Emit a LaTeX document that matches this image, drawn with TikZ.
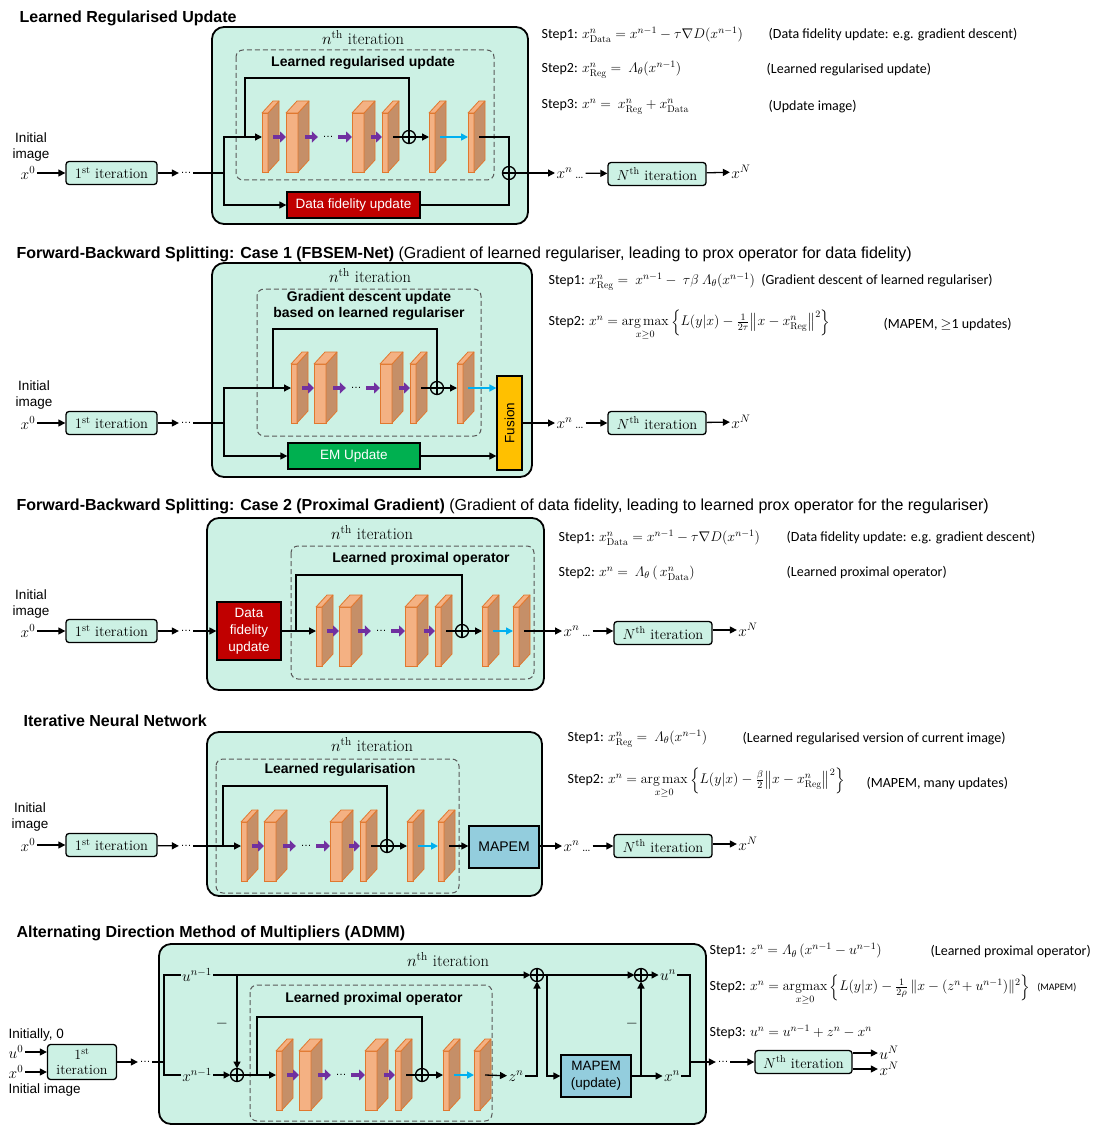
\documentclass[tikz,border=0pt]{standalone}
\usepackage{fix-cm}
\usepackage{amsmath}
\usepackage{graphicx}
\usepackage{fontspec}
\newfontfamily\arial{Liberation Sans}
\newfontfamily\calib{Carlito}
\usetikzlibrary{arrows.meta, calc}
\definecolor{cmint}{HTML}{CCF1E4}
\definecolor{cfront}{HTML}{F4B183}
\definecolor{cside}{HTML}{C58F68}
\definecolor{cedge}{HTML}{E0782F}
\definecolor{cpurple}{HTML}{7030A0}
\definecolor{ccyan}{HTML}{00B0F0}
\definecolor{cred}{HTML}{C00000}
\definecolor{cgreen}{HTML}{00B050}
\definecolor{cyellow}{HTML}{FFC000}
\definecolor{cteal}{HTML}{93CDDD}
\definecolor{cdash}{HTML}{595959}
\newcommand\Lam{\mathnormal{\Lambda}}
\tikzset{
  every picture/.style={line width=1.3pt},
  title/.style={font=\arial\bfseries\fontsize{16}{19}\selectfont, anchor=west, inner sep=0pt},
  outer/.style={draw, fill=cmint, rounded corners=12pt, line width=1.8pt},
  inner/.style={draw=cdash, dash pattern=on 5pt off 3pt, rounded corners=7pt, line width=1pt},
  iter/.style={draw, fill=cmint, rounded corners=3pt, line width=1.3pt, minimum width=91pt, minimum height=23pt, inner sep=0pt, font=\fontsize{14.5}{16}\selectfont},
  iterlabel/.style={font=\fontsize{16.5}{18}\selectfont, inner sep=0pt},
  boxlabel/.style={font=\arial\bfseries\fontsize{14}{16}\selectfont, inner sep=0pt, align=center},
  lbl/.style={font=\arial\fontsize{13.5}{16}\selectfont, align=center, inner sep=0pt},
  mathlbl/.style={font=\fontsize{15.5}{17}\selectfont, inner sep=1pt},
  dotsnode/.style={font=\arial\fontsize{11}{13}\selectfont, inner sep=1pt},
  opbox/.style={draw, line width=1.3pt, font=\arial\fontsize{13.5}{17}\selectfont, inner sep=0pt, align=center},
  steptext/.style={font=\calib\fontsize{14}{17}\selectfont, anchor=west, inner sep=0pt},
  slab/.style={draw=cedge, fill=cfront, line width=0.8pt, inner sep=0pt, outer sep=0pt, text height=24pt, text depth=35pt, anchor=base west},
  slabside/.style={draw=cedge, fill=cside, line width=0.8pt, line join=round},
  slabtop/.style={draw=cedge, fill=cfront, line width=0.8pt, line join=round},
  sum/.style={circle, draw, fill=cmint, minimum size=13pt, inner sep=0pt, outer sep=0pt, line width=1.3pt,
    path picture={\draw[line width=1.3pt] (path picture bounding box.north) -- (path picture bounding box.south)
      (path picture bounding box.west) -- (path picture bounding box.east);}},
  arrow/.style={-{Triangle[length=7pt,width=7pt]}, line width=1.3pt},
  purparrow/.style={draw=cpurple, line width=4pt, -{Triangle[length=6pt,width=11pt]}},
  cyanarrow/.style={draw=ccyan, line width=1.6pt, -{Triangle[length=7pt,width=7pt]}},
}
% one 3D layer of the network: name, x of front face, y of data line, front width
\newcommand\convslab[4]{%
  \node[slab, minimum width=#4] (#1) at (#2,#3) {};
  \filldraw[slabside] (#1.north east) -- ([shift={(11,-12)}]#1.north east)
    -- ([shift={(11,-12)}]#1.south east) -- (#1.south east) -- cycle;
  \filldraw[slabtop] (#1.north west) -- ([shift={(11,-12)}]#1.north west)
    -- ([shift={(11,-12)}]#1.north east) -- (#1.north east) -- cycle;
}

\begin{document}
\begin{tikzpicture}[x=1pt, y=-1pt]
  \useasboundingbox (0,0) rectangle (1097,1126);

  % ===== Learned Regularised Update =====
  \node[title] (t1) at (19,18) {Learned Regularised Update};
  \draw[outer] (212,27) rectangle (528,224);
  \draw[inner] (236,50) rectangle (494,180);
  \node[iterlabel] (n1) at (363,38) {$n^{\mathrm{th}}$ iteration};
  \node[boxlabel] (l1) at (363,63) {Learned regularised update};
  \foreach \n/\x/\w in {a1/262/6, a2/286/12, a3/352/12, a4/382/6, a5/429/6, a6/468/6}
    \convslab{\n}{\x}{137}{\w};
  \node[dotsnode] (ad) at (328,137) {\ldots};
  \draw[purparrow] ([xshift=5]a1.base east) -- (a2.base west);
  \draw[purparrow] ([xshift=7]a2.base east) -- ([xshift=-3]ad.west);
  \draw[purparrow] ([xshift=3]ad.east) -- (a3.base west);
  \draw[purparrow] ([xshift=7]a3.base east) -- (a4.base west);
  \node[sum] (s1) at (409,137) {};
  \draw ([xshift=5]a4.base east) -- (s1);
  \draw[arrow] (s1) -- (a5.base west);
  \draw[cyanarrow] ([xshift=5]a5.base east) -- (a6.base west);
  \node[sum] (s2) at (509,173) {};
  \node[opbox, fill=cred, text=white, minimum width=133, minimum height=26] (df1) at (353.5,205) {Data fidelity update};
  \node[lbl] (i1) at (31,147) {Initial\\image};
  \node[mathlbl] (x01) at (28,173) {$x^0$};
  \node[iter] (it1) at (111.5,173) {$1^{\mathrm{st}}$ iteration};
  \node[dotsnode] (d1) at (186,173) {\ldots};
  \coordinate (j1) at (224,173);
  \coordinate (k1) at (245,137);
  \coordinate (k1t) at (245,78);
  \draw[arrow] (x01) -- (it1);
  \draw[arrow] (it1) -- (d1);
  \draw (d1) -- (j1);
  \draw[arrow] (j1) |- (a1.base west);
  \draw[arrow] (j1) |- (df1);
  \draw (k1) -- (k1t) -| (s1);
  \draw ([xshift=5]a6.base east) -| (s2);
  \draw (df1) -| (s2);
  \node[mathlbl, anchor=west] (xn1) at (555,173) {$x^n$\,\ldots};
  \node[iter, minimum width=98] (N1) at (657,174) {$N^{\mathrm{th}}$ iteration};
  \node[mathlbl] (xN1) at (741,172) {$x^N$};
  \draw[arrow] (s2) -- (xn1);
  \draw[arrow] (xn1) -- (N1);
  \draw[arrow] (N1) -- (xN1);
  \node[steptext] (st11) at (541,35) {Step1: $x^n_{\mathrm{Data}} = x^{n-1} - \tau\nabla D(x^{n-1})$};
  \node[steptext] (nt11) at (768,35) {(Data fidelity update: e.g. gradient descent)};
  \node[steptext] (st12) at (541,70) {Step2: $x^n_{\mathrm{Reg}} = \ \Lam_\theta(x^{n-1})$};
  \node[steptext] (nt12) at (766,70) {(Learned regularised update)};
  \node[steptext] (st13) at (541,107) {Step3: $x^n = \ x^n_{\mathrm{Reg}} + x^n_{\mathrm{Data}}$};
  \node[steptext] (nt13) at (768,107) {(Update image)};

  % ===== Forward-Backward Splitting: Case 1 =====
  \node[title] (t2) at (16,254) {Forward-Backward Splitting: Case 1 (FBSEM-Net) {\mdseries(Gradient of learned regulariser, leading to prox operator for data fidelity)}};
  \draw[outer] (212,263) rectangle (532,477);
  \draw[inner] (257,289) rectangle (481,436);
  \node[iterlabel] (n2) at (370,276) {$n^{\mathrm{th}}$ iteration};
  \node[boxlabel] (l2) at (369,306) {Gradient descent update\\based on learned regulariser};
  \foreach \n/\x/\w in {b1/291/6, b2/314/12, b3/380/12, b4/410/6, b5/457/6}
    \convslab{\n}{\x}{388}{\w};
  \node[dotsnode] (bd) at (356,388) {\ldots};
  \draw[purparrow] ([xshift=5]b1.base east) -- (b2.base west);
  \draw[purparrow] ([xshift=7]b2.base east) -- ([xshift=-3]bd.west);
  \draw[purparrow] ([xshift=3]bd.east) -- (b3.base west);
  \draw[purparrow] ([xshift=7]b3.base east) -- (b4.base west);
  \node[sum] (s3) at (437,388) {};
  \draw ([xshift=5]b4.base east) -- (s3);
  \draw[arrow] (s3) -- (b5.base west);
  \node[opbox, fill=cyellow, minimum width=25, minimum height=94] (fu) at (509.5,423) {\rotatebox{90}{Fusion}};
  \draw[cyanarrow] ([xshift=5]b5.base east) -- (b5.base east -| fu.west);
  \node[opbox, fill=cgreen, text=white, minimum width=132, minimum height=26] (em) at (354,456) {EM Update};
  \node[lbl] (i2) at (34,395) {Initial\\image};
  \node[mathlbl] (x02) at (28,423) {$x^0$};
  \node[iter] (it2) at (111.5,423) {$1^{\mathrm{st}}$ iteration};
  \node[dotsnode] (d2) at (186,423) {\ldots};
  \coordinate (j2) at (224,423);
  \coordinate (k2) at (273,388);
  \coordinate (k2t) at (273,329);
  \draw[arrow] (x02) -- (it2);
  \draw[arrow] (it2) -- (d2);
  \draw (d2) -- (j2);
  \draw[arrow] (j2) |- (b1.base west);
  \draw[arrow] (j2) |- (em);
  \draw (k2) -- (k2t) -| (s3);
  \draw[arrow] (em) -- (em -| fu.west);
  \node[mathlbl, anchor=west] (xn2) at (555,423) {$x^n$\,\ldots};
  \node[iter, minimum width=98] (N2) at (657,423) {$N^{\mathrm{th}}$ iteration};
  \node[mathlbl] (xN2) at (741,422) {$x^N$};
  \draw[arrow] (fu) -- (xn2);
  \draw[arrow] (xn2) -- (N2);
  \draw[arrow] (N2) -- (xN2);
  \node[steptext] (st21) at (548,282) {Step1: $x^n_{\mathrm{Reg}} = \ x^{n-1} - \ \tau\beta\ \Lam_\theta(x^{n-1})$\ \ (Gradient descent of learned regulariser)};
  \node[steptext] (st22) at (548,325) {Step2: $x^n = \mathop{\mathrm{arg\,max}}\limits_{x\geq 0}\Big\{L(y|x) - \tfrac{1}{2\tau}\big\|x - x^n_{\mathrm{Reg}}\big\|^2\Big\}$};
  \node[steptext] (nt22) at (883,325) {(MAPEM, $\geq$1 updates)};

  % ===== Forward-Backward Splitting: Case 2 =====
  \node[title] (t3) at (16,506) {Forward-Backward Splitting: Case 2 (Proximal Gradient) {\mdseries(Gradient of data fidelity, leading to learned prox operator for the regulariser)}};
  \draw[outer] (207,518) rectangle (544,690);
  \draw[inner] (291,546) rectangle (534,679);
  \node[iterlabel] (n3) at (372,533) {$n^{\mathrm{th}}$ iteration};
  \node[boxlabel] (l3) at (421,559) {Learned proximal operator};
  \node[opbox, fill=cred, text=white, minimum width=64, minimum height=58] (df3) at (249,631) {Data\\fidelity\\update};
  \foreach \n/\x/\w in {c1/316/6, c2/339/12, c3/405/12, c4/435/6, c5/482/6, c6/513/6}
    \convslab{\n}{\x}{631}{\w};
  \node[dotsnode] (cd) at (381,631) {\ldots};
  \draw[purparrow] ([xshift=5]c1.base east) -- (c2.base west);
  \draw[purparrow] ([xshift=7]c2.base east) -- ([xshift=-3]cd.west);
  \draw[purparrow] ([xshift=3]cd.east) -- (c3.base west);
  \draw[purparrow] ([xshift=7]c3.base east) -- (c4.base west);
  \node[sum] (s5) at (462,631) {};
  \draw ([xshift=5]c4.base east) -- (s5);
  \draw[arrow] (s5) -- (c5.base west);
  \draw[cyanarrow] ([xshift=5]c5.base east) -- (c6.base west);
  \node[lbl] (i3) at (31,604) {Initial\\image};
  \node[mathlbl] (x03) at (28,631) {$x^0$};
  \node[iter] (it3) at (111.5,631) {$1^{\mathrm{st}}$ iteration};
  \node[dotsnode] (d3) at (186,631) {\ldots};
  \coordinate (k3) at (296,631);
  \coordinate (k3t) at (296,575);
  \draw[arrow] (x03) -- (it3);
  \draw[arrow] (it3) -- (d3);
  \draw[arrow] (d3) -- (df3);
  \draw[arrow] (df3) -- (c1.base west);
  \draw (k3) -- (k3t) -| (s5);
  \node[mathlbl, anchor=west] (xn3) at (562,631) {$x^n$\,\ldots};
  \node[iter, minimum width=98] (N3) at (663,633) {$N^{\mathrm{th}}$ iteration};
  \node[mathlbl] (xN3) at (748,630) {$x^N$};
  \draw[arrow] ([xshift=5]c6.base east) -- (xn3);
  \draw[arrow] (xn3) -- (xn3 -| N3.west);
  \draw[arrow] (N3.east |- xN3) -- (xN3);
  \node[steptext] (st31) at (558,538) {Step1: $x^n_{\mathrm{Data}} = x^{n-1} - \tau\nabla D(x^{n-1})$};
  \node[steptext] (nt31) at (786,538) {(Data fidelity update: e.g. gradient descent)};
  \node[steptext] (st32) at (558,573) {Step2: $x^n = \ \Lam_\theta\,(\,x^n_{\mathrm{Data}})$};
  \node[steptext] (nt32) at (786,573) {(Learned proximal operator)};

  % ===== Iterative Neural Network =====
  \node[title] (t4) at (23,721) {Iterative Neural Network};
  \draw[outer] (207,732) rectangle (542,896);
  \draw[inner] (216,759) rectangle (459,893);
  \node[iterlabel] (n4) at (372,745) {$n^{\mathrm{th}}$ iteration};
  \node[boxlabel] (l4) at (340,770) {Learned regularisation};
  \foreach \n/\x/\w in {e1/241/6, e2/264/12, e3/330/12, e4/360/6, e5/407/6, e6/438/6}
    \convslab{\n}{\x}{846}{\w};
  \node[dotsnode] (ed) at (306,846) {\ldots};
  \draw[purparrow] ([xshift=5]e1.base east) -- (e2.base west);
  \draw[purparrow] ([xshift=7]e2.base east) -- ([xshift=-3]ed.west);
  \draw[purparrow] ([xshift=3]ed.east) -- (e3.base west);
  \draw[purparrow] ([xshift=7]e3.base east) -- (e4.base west);
  \node[sum] (s6) at (387,846) {};
  \draw ([xshift=5]e4.base east) -- (s6);
  \draw[arrow] (s6) -- (e5.base west);
  \draw[cyanarrow] ([xshift=5]e5.base east) -- (e6.base west);
  \node[opbox, fill=cteal, minimum width=70, minimum height=42, font=\arial\fontsize{14}{16}\selectfont] (mp4) at (504,847) {MAPEM};
  \node[lbl] (i4) at (30,817) {Initial\\image};
  \node[mathlbl] (x04) at (28,845) {$x^0$};
  \node[iter] (it4) at (111.5,845) {$1^{\mathrm{st}}$ iteration};
  \node[dotsnode] (d4) at (186,846) {\ldots};
  \coordinate (k4) at (223,846);
  \coordinate (k4t) at (223,786);
  \draw[arrow] (x04) -- (it4);
  \draw[arrow] (it4) -- (d4);
  \draw[arrow] (d4) -- (e1.base west);
  \draw (k4) -- (k4t) -| (s6);
  \draw[arrow] ([xshift=5]e6.base east) -- (e6.base east -| mp4.west);
  \node[mathlbl, anchor=west] (xn4) at (562,846) {$x^n$\,\ldots};
  \node[iter, minimum width=98] (N4) at (663,846) {$N^{\mathrm{th}}$ iteration};
  \node[mathlbl] (xN4) at (748,844) {$x^N$};
  \draw[arrow] (mp4.east |- xn4) -- (xn4);
  \draw[arrow] (xn4) -- (N4);
  \draw[arrow] (N4.east |- xN4) -- (xN4);
  \node[steptext] (st41) at (567,739) {Step1: $x^n_{\mathrm{Reg}} = \ \Lam_\theta(x^{n-1})$};
  \node[steptext] (nt41) at (742,739) {(Learned regularised version of current image)};
  \node[steptext] (st42) at (567,783) {Step2: $x^n = \mathop{\mathrm{arg\,max}}\limits_{x\geq 0}\Big\{L(y|x) - \tfrac{\beta}{2}\big\|x - x^n_{\mathrm{Reg}}\big\|^2\Big\}$};
  \node[steptext] (nt42) at (866,783) {(MAPEM, many updates)};

  % ===== ADMM =====
  \node[title] (t5) at (16,933) {Alternating Direction Method of Multipliers (ADMM)};
  \draw[outer] (159,944) rectangle (706,1124);
  \draw[inner] (250,985) rectangle (492,1121);
  \node[iterlabel] (n5) at (448,960) {$n^{\mathrm{th}}$ iteration};
  \node[boxlabel] (l5) at (374,999) {Learned proximal operator};
  \node[mathlbl] (un1) at (197,975) {$u^{n-1}$};
  \node[mathlbl] (xm1) at (197,1075) {$x^{n-1}$};
  \node[sum] (sa) at (237,1075) {};
  \node[sum] (su) at (537,975) {};
  \node[sum] (sb) at (641,975) {};
  \coordinate (jv) at (237,975);
  \coordinate (ju) at (547,975);
  \node[mathlbl] (m1) at (222,1024) {$-$};
  \node[mathlbl] (m2) at (632,1024) {$-$};
  \foreach \n/\x/\w in {f1/276/6, f2/299/12, f3/365/12, f4/395/6, f5/443/6, f6/474/6}
    \convslab{\n}{\x}{1075}{\w};
  \node[dotsnode] (fd) at (341,1075) {\ldots};
  \draw[purparrow] ([xshift=5]f1.base east) -- (f2.base west);
  \draw[purparrow] ([xshift=7]f2.base east) -- ([xshift=-3]fd.west);
  \draw[purparrow] ([xshift=3]fd.east) -- (f3.base west);
  \draw[purparrow] ([xshift=7]f3.base east) -- (f4.base west);
  \node[sum] (sc) at (422,1075) {};
  \draw ([xshift=5]f4.base east) -- (sc);
  \draw[arrow] (sc) -- (f5.base west);
  \draw[cyanarrow] ([xshift=5]f5.base east) -- (f6.base west);
  \coordinate (k5) at (257,1075);
  \coordinate (k5t) at (257,1017);
  \draw (k5) -- (k5t) -| (sc);
  \node[mathlbl] (zn5) at (516,1076) {$z^n$};
  \node[opbox, fill=cteal, minimum width=70, minimum height=42] (mp5) at (596,1076) {MAPEM\\(update)};
  \coordinate (jx) at (641,1076);
  \node[mathlbl] (xn5) at (672,1076) {$x^n$};
  \node[mathlbl] (un5) at (668,975) {$u^n$};
  \coordinate (xi) at (164,1062);
  \coordinate (xo) at (690,1062);
  \draw[arrow] (un1) -- (su);
  \draw[arrow] (jv) -- (sa);
  \draw[arrow] (xm1) -- (sa);
  \draw[arrow] (sa) -- (f1.base west);
  \draw[arrow] ([xshift=5]f6.base east) -- (zn5);
  \draw[arrow] (zn5) -| (su);
  \draw[arrow] (su) -- (sb);
  \draw[arrow] (ju) |- (mp5);
  \draw (mp5) -- (jx);
  \draw[arrow] (jx) -- (sb);
  \draw[arrow] (jx) -- (xn5);
  \draw[arrow] (sb) -- (un5);
  \draw (un5) -| (xo) |- (xn5);
  % inputs
  \node[lbl, anchor=west] (ini5) at (8,1035) {Initially, 0};
  \node[mathlbl] (u05) at (16,1052) {$u^0$};
  \node[mathlbl] (x05) at (16,1072) {$x^0$};
  \node[lbl, anchor=west] (ii5) at (8,1090) {Initial image};
  \node[iter, minimum width=69, minimum height=35, align=center, font=\fontsize{14}{15}\selectfont] (it5) at (82,1062) {$1^{\mathrm{st}}$\\iteration};
  \node[dotsnode] (dS) at (145,1062) {\ldots};
  \draw[arrow] (u05) -- (u05 -| it5.west);
  \draw[arrow] (x05) -- (x05 -| it5.west);
  \draw[arrow] (it5) -- (dS);
  \draw (dS) -- (xi);
  \draw (un1) -| (xi) |- (xm1);
  % outputs
  \node[dotsnode] (dE) at (723,1062) {\ldots};
  \node[iter, minimum width=97] (N5) at (803.5,1062) {$N^{\mathrm{th}}$ iteration};
  \node[mathlbl] (uN) at (889,1053) {$u^N$};
  \node[mathlbl] (xN5) at (889,1069) {$x^N$};
  \draw[arrow] (xo) -- (dE);
  \draw[arrow] (dE) -- (N5);
  \draw[arrow] (N5.east |- uN) -- (uN);
  \draw[arrow] (N5.east |- xN5) -- (xN5);
  \node[steptext] (st51) at (709,951) {Step1: $z^n = \Lam_\theta\,(x^{n-1} - u^{n-1})$};
  \node[steptext] (nt51) at (930,951) {(Learned proximal operator)};
  \node[steptext] (st52) at (709,990) {Step2: $x^n = \mathop{\mathrm{argmax}}\limits_{x\geq 0}\Big\{L(y|x) - \tfrac{1}{2\rho}\,\|x - (z^n\!+ u^{n-1})\|^2\Big\}$\enspace{\fontsize{10}{12}\selectfont(MAPEM)}};
  \node[steptext] (st53) at (709,1032) {Step3: $u^n = u^{n-1} + z^n - x^n$};
\end{tikzpicture}
\end{document}
